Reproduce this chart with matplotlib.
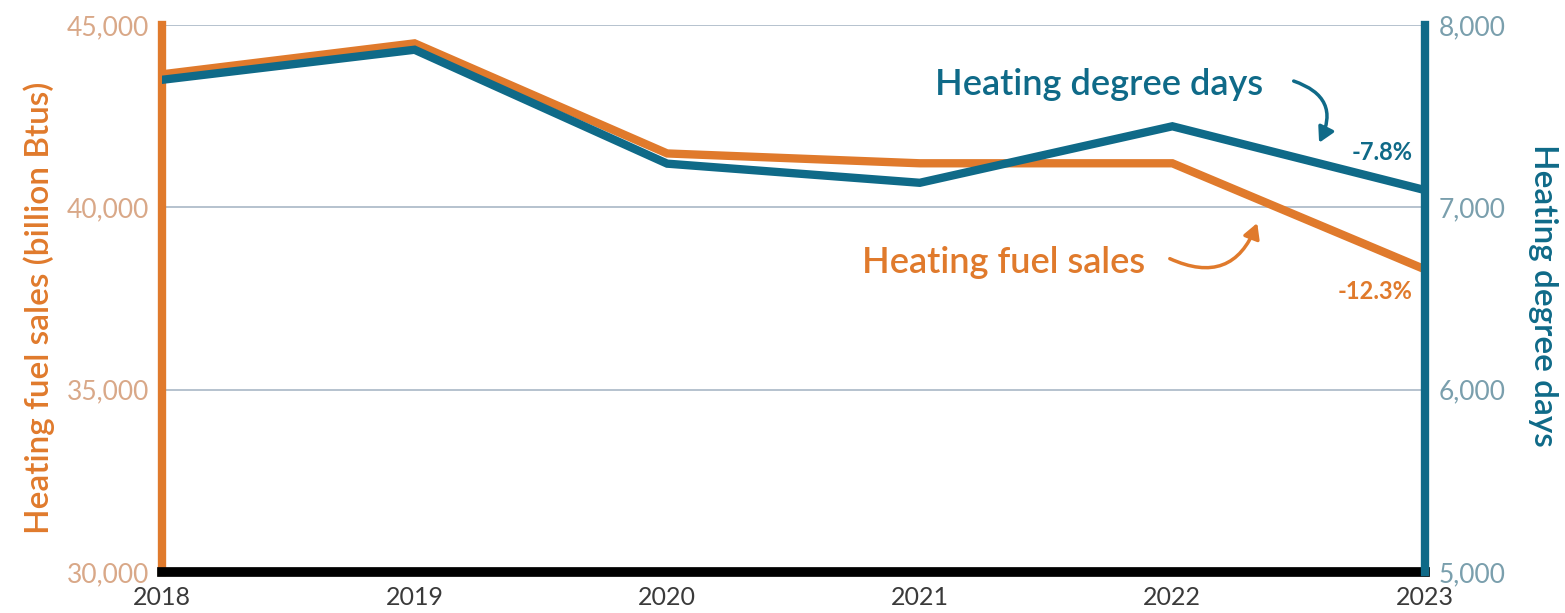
import matplotlib.pyplot as plt
from matplotlib.ticker import FuncFormatter

plt.rcParams['font.family'] = ['Lato', 'DejaVu Sans']

years = [2018, 2019, 2020, 2021, 2022, 2023]
fuel_sales = [43650, 44500, 41480, 41210, 41210, 38300]   # billion Btus
degree_days = [7700, 7865, 7240, 7135, 7445, 7095]

orange = '#E07A2C'
blue = '#0F6A88'

fig = plt.figure(figsize=(15.65, 6.13), dpi=100)
ax = fig.add_axes([0.1035, 0.067, 0.807, 0.892])
ax2 = ax.twinx()

ax.plot(years, fuel_sales, color=orange, lw=6, solid_joinstyle='miter', zorder=3)
ax2.plot(years, degree_days, color=blue, lw=6, solid_joinstyle='miter', zorder=3)

ax.set_xlim(2018, 2023)
ax.set_ylim(30000, 45000)
ax2.set_ylim(5000, 8000)
ax.set_yticks([30000, 35000, 40000, 45000])
ax2.set_yticks([5000, 6000, 7000, 8000])
ax.set_xticks(years)

fmt = FuncFormatter(lambda v, p: f'{int(v):,}')
ax.yaxis.set_major_formatter(fmt)
ax2.yaxis.set_major_formatter(fmt)

ax.grid(axis='y', color='#A9B8C6', lw=1.2)
ax.set_axisbelow(True)

for a in (ax, ax2):
    for s in a.spines.values():
        s.set_visible(False)
ax.spines['left'].set_visible(True)
ax.spines['left'].set_color(orange)
ax.spines['left'].set_linewidth(6)
ax2.spines['right'].set_visible(True)
ax2.spines['right'].set_color(blue)
ax2.spines['right'].set_linewidth(6)
ax.spines['bottom'].set_visible(True)
ax.spines['bottom'].set_color('black')
ax.spines['bottom'].set_linewidth(7)
ax.spines['bottom'].set_zorder(5)

ax.tick_params(axis='y', length=0, pad=9, labelsize=19, labelcolor='#D9A888')
ax2.tick_params(axis='y', length=0, pad=10, labelsize=19, labelcolor='#7A9FAD')
ax.tick_params(axis='x', length=0, pad=10, labelsize=18, labelcolor='#3A3A3A')

ax.set_ylabel('Heating fuel sales (billion Btus)', color=orange, fontsize=24,
              fontweight='semibold', ha='center', va='center')
ax.yaxis.set_label_coords(-0.097, 0.483)
ax2.set_ylabel('Heating degree days', color=blue, fontsize=24,
               fontweight='semibold', rotation=270, ha='center', va='center')
ax2.yaxis.set_label_coords(1.0935, 0.506)

# annotations
ax2.text(2021.06, 7676, 'Heating degree days', color=blue, fontsize=26,
         fontweight='semibold', va='center', ha='left')
ax2.annotate('', xy=(2022.576, 7341), xytext=(2022.47, 7698),
             arrowprops=dict(arrowstyle='-|>,head_width=0.5,head_length=0.9',
                             color=blue, lw=2.5, connectionstyle='arc3,rad=-0.6'))
ax2.text(2022.95, 7302, '-7.8%', color=blue, fontsize=17, fontweight='bold',
         va='center', ha='right')

ax.text(2020.77, 38490, 'Heating fuel sales', color=orange, fontsize=26,
        fontweight='semibold', va='center', ha='left')
ax.annotate('', xy=(2022.34, 39643), xytext=(2021.98, 38626),
            arrowprops=dict(arrowstyle='-|>,head_width=0.5,head_length=0.9',
                            color=orange, lw=2.5, connectionstyle='arc3,rad=0.55'))
ax.text(2022.95, 37692, '-12.3%', color=orange, fontsize=17, fontweight='bold',
        va='center', ha='right')

fig.savefig('out.png', dpi=100)
